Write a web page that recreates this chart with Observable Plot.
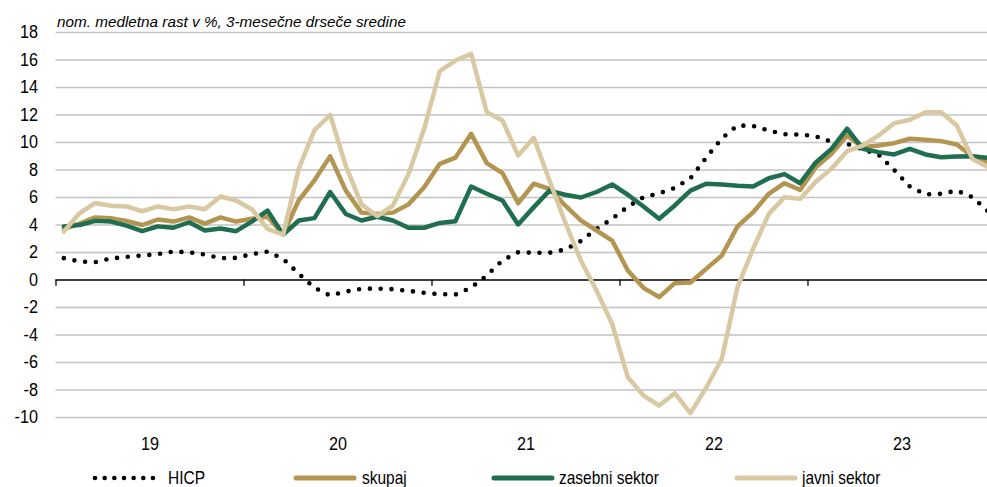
<!DOCTYPE html>
<html>
<head>
<meta charset="utf-8">
<script src="https://cdn.jsdelivr.net/npm/d3@7"></script>
<script src="https://cdn.jsdelivr.net/npm/@observablehq/plot@0.6"></script>
<style>
  body { margin: 0; background: #fff; }
  #wrap { position: relative; width: 987px; height: 487px; overflow: hidden;
          font-family: "Liberation Sans Narrow", "Arial Narrow", "Liberation Sans", Arial, sans-serif; }
  #chart { position: absolute; left: 0; top: 0; }
  .leg { position: absolute; top: 465px; height: 26px; display: flex; align-items: center;
         font-size: 19px; color: #000; white-space: nowrap; }
  .leg svg { flex: none; }
  .leg span { display: inline-block; transform: scaleX(0.815); transform-origin: left center; }
</style>
</head>
<body>
<div id="wrap">
  <div id="chart"></div>
  <div id="legend"></div>
</div>
<script>
// ---- data (monthly, Jan 2019 – Dec 2023) ----
const subtitle = "nom. medletna rast v %, 3-mesečne drseče sredine";
const yearLabels = ["19", "20", "21", "22", "23"];
const yTicks = [-10, -8, -6, -4, -2, 0, 2, 4, 6, 8, 10, 12, 14, 16, 18];

const hicp = [
  1.59, 1.35, 1.30, 1.56, 1.68, 1.78, 1.88, 2.07, 2.02, 1.85, 1.59, 1.61,
  1.88, 2.07, 1.54, 0.45, -0.57, -1.13, -0.84, -0.64, -0.62, -0.67, -0.79, -0.93,
  -1.03, -1.06, -0.55, 0.33, 1.42, 2.02, 1.98, 1.98, 2.22, 2.83, 3.72, 4.45,
  5.33, 6.02, 6.30, 6.70, 7.40, 8.89, 10.30, 11.24, 11.20, 10.87, 10.60, 10.58,
  10.45, 10.05, 9.90, 9.49, 9.13, 8.00, 6.80, 6.22, 6.27, 6.50, 6.02, 5.00
];
const skupaj = [
  3.70, 4.10, 4.55, 4.50, 4.30, 4.00, 4.40, 4.25, 4.55, 4.10, 4.55, 4.25,
  4.45, 4.60, 3.35, 5.80, 7.25, 9.00, 6.50, 4.90, 4.80, 4.90, 5.50, 6.75,
  8.45, 8.90, 10.63, 8.50, 7.77, 5.59, 7.00, 6.63, 5.42, 4.33, 3.60, 2.87,
  0.69, -0.57, -1.25, -0.23, -0.18, 0.81, 1.78, 3.89, 4.93, 6.27, 7.04, 6.55,
  8.20, 9.18, 10.50, 9.66, 9.78, 9.95, 10.27, 10.20, 10.10, 9.85, 8.98, 8.57
];
const zasebni = [
  3.90, 4.00, 4.30, 4.25, 3.95, 3.55, 3.90, 3.80, 4.20, 3.60, 3.75, 3.55,
  4.25, 5.05, 3.30, 4.33, 4.50, 6.40, 4.80, 4.33, 4.60, 4.33, 3.80, 3.80,
  4.15, 4.28, 6.80, 6.27, 5.78, 4.04, 5.30, 6.50, 6.20, 6.00, 6.40, 6.95,
  6.20, 5.35, 4.45, 5.42, 6.50, 7.00, 6.95, 6.85, 6.80, 7.40, 7.70, 7.04,
  8.55, 9.54, 11.00, 9.54, 9.30, 9.13, 9.54, 9.13, 8.93, 8.98, 9.00, 8.89
];
const javni = [
  3.53, 4.85, 5.60, 5.40, 5.35, 5.00, 5.35, 5.15, 5.35, 5.15, 6.07, 5.78,
  5.15, 3.72, 3.30, 8.10, 10.90, 12.00, 8.30, 5.50, 4.65, 5.40, 7.70, 11.00,
  15.20, 15.96, 16.45, 12.20, 11.60, 9.05, 10.34, 7.24, 4.20, 1.42, -0.76, -3.20,
  -7.07, -8.40, -9.13, -8.23, -9.68, -7.84, -5.73, -0.52, 2.27, 4.81, 6.02, 5.90,
  7.15, 8.10, 9.37, 9.78, 10.50, 11.40, 11.65, 12.20, 12.20, 11.24, 8.80, 8.20
];

const seriesNames = ["HICP", "skupaj", "zasebni sektor", "javni sektor"];
const seriesColors = ["#000000", "#b39551", "#1f6e50", "#d9c9a3"];

// ---- build ----
const toRows = (arr) => arr.map((v, i) => ({ m: i + 0.5, v }));
const font = '"Liberation Sans Narrow", "Arial Narrow", "Liberation Sans", Arial, sans-serif';

const chart = Plot.plot({
  width: 987,
  height: 455,
  marginLeft: 55.5,
  marginRight: 0,
  marginTop: 32,
  marginBottom: 38,
  style: { fontFamily: font, fontSize: "18px", color: "#000", background: "#fff" },
  x: { domain: [0, 59.46], axis: null },
  y: { domain: [-10, 18], axis: null },
  marks: [
    Plot.ruleY(yTicks.filter(d => d !== 0), { stroke: "#c3c3c3", strokeWidth: 1.5 }),
    Plot.axisY({ ticks: yTicks, tickSize: 0, tickPadding: 18, fontSize: 18, label: null,
                 tickFormat: d => String(d), className: "ylab" }),
    Plot.ruleY([0], { stroke: "#000", strokeWidth: 1.3 }),
    Plot.ruleX(yearLabels.map((_, k) => 12 * k), { x: d => d, y1: 0, y2: -0.45, stroke: "#000", strokeWidth: 1.3 }),
    Plot.text(yearLabels, { x: (d, k) => 12 * k + 6, frameAnchor: "bottom", dy: 27, lineAnchor: "middle",
                            text: d => d, fontSize: 18, className: "xlab" }),
    Plot.text([subtitle], { frameAnchor: "top-left", dx: 1, dy: -6, lineAnchor: "bottom", text: d => d,
                            fontStyle: "italic", fontSize: 15, className: "subt",
                            fontFamily: '"Liberation Sans", Arial, sans-serif' }),
    Plot.line(toRows(hicp), { x: "m", y: "v", stroke: seriesColors[0], strokeWidth: 4.6,
                              strokeLinecap: "round", strokeDasharray: "0 10.8" }),
    Plot.line(toRows(skupaj), { x: "m", y: "v", stroke: seriesColors[1], strokeWidth: 4.5, strokeLinejoin: "round" }),
    Plot.line(toRows(zasebni), { x: "m", y: "v", stroke: seriesColors[2], strokeWidth: 4.5, strokeLinejoin: "round" }),
    Plot.line(toRows(javni), { x: "m", y: "v", stroke: seriesColors[3], strokeWidth: 4.5, strokeLinejoin: "round" })
  ]
});
document.getElementById("chart").appendChild(chart);

// condense axis text slightly (reference uses a narrow face)
chart.querySelectorAll("g.ylab text, g.xlab text").forEach(t => {
  const len = t.getComputedTextLength();
  t.setAttribute("textLength", (len * 0.9).toFixed(1));
  t.setAttribute("lengthAdjust", "spacingAndGlyphs");
});
chart.querySelectorAll("g.subt text").forEach(t => {
  t.setAttribute("textLength", "349");
  t.setAttribute("lengthAdjust", "spacingAndGlyphs");
});

// ---- legend ----
const legendLeft = [92, 293, 491, 734];
const legendGap = [12, 5, 4, 4];
const legend = document.getElementById("legend");
seriesNames.forEach((name, k) => {
  const div = document.createElement("div");
  div.className = "leg";
  div.style.left = (legendLeft[k] - 0.5) + "px";
  const dotted = k === 0;
  div.innerHTML =
    `<svg width="64" height="10" style="margin-right:${legendGap[k]}px"><line x1="3" y1="5" x2="61" y2="5" stroke="${seriesColors[k]}" ` +
    `stroke-width="${dotted ? 4.6 : 5}" stroke-linecap="round" ${dotted ? 'stroke-dasharray="0 9.66"' : ''}/></svg>` +
    `<span>${name}</span>`;
  legend.appendChild(div);
});
</script>
</body>
</html>
